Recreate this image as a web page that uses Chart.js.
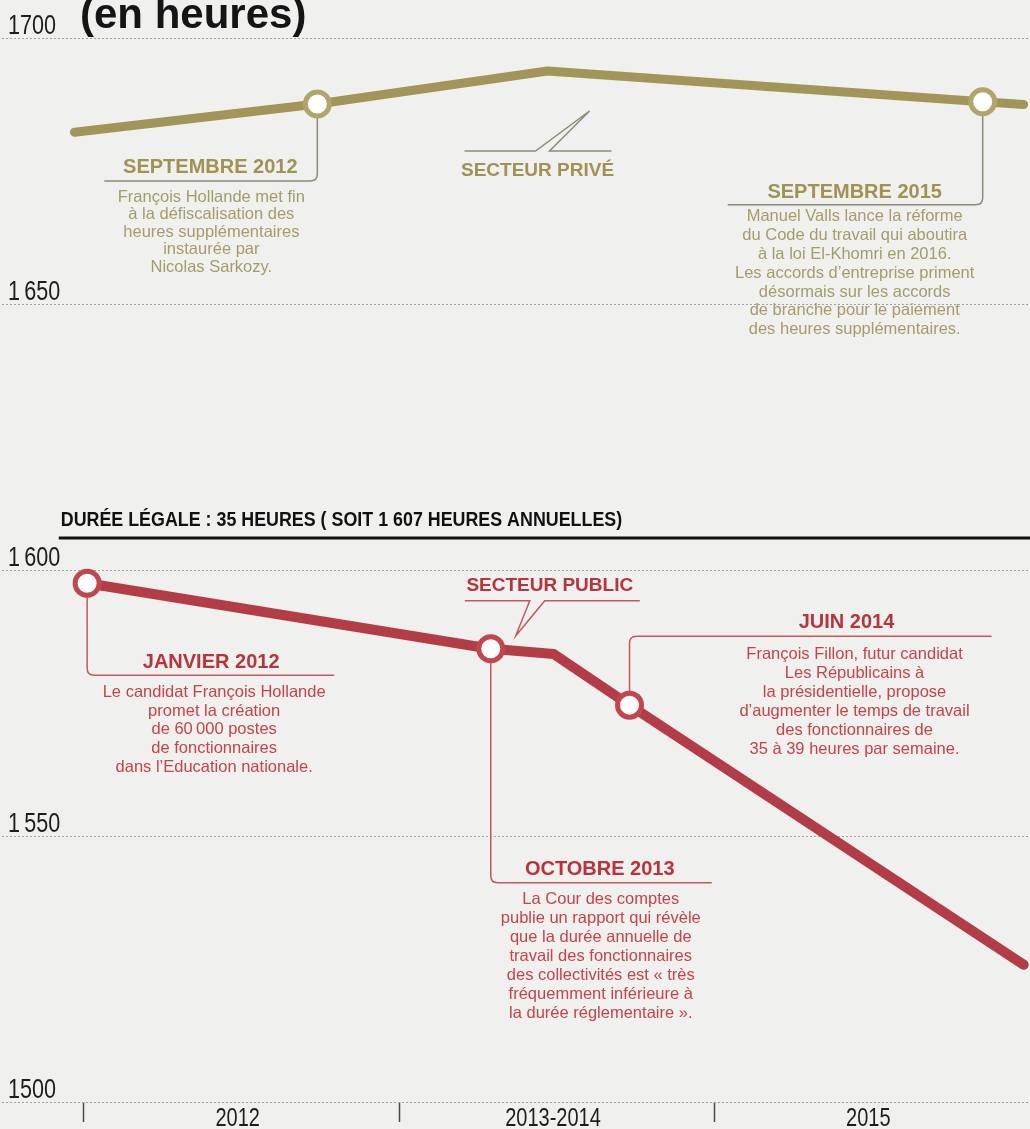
<!DOCTYPE html>
<html><head><meta charset="utf-8">
<script src="https://cdn.jsdelivr.net/npm/chart.js@4.4.1/dist/chart.umd.min.js"></script>
<style>
html,body{margin:0;padding:0;background:#f0f0ee;}
#wrap{width:1030px;height:1129px;position:relative;overflow:hidden;}
</style></head><body>
<div id="wrap"><canvas id="c" width="1030" height="1129"></canvas></div>
<script>
// ---------- DATA ----------
const titleText = '(en heures)';
const periodLabels = ['2012', '2013-2014', '2015'];
const periodTicks = [0, 0.5, 1, 1.5, 2, 2.5];
const yTickValues = [1500, 1550, 1600, 1650, 1700];
const yTickLabels = ['1500', '1\u2009550', '1\u2009600', '1\u2009650', '1700'];

// x expressed in period units (0 = start of 2012 column, 1 = start of 2013-2014, 2 = start of 2015)
const privateX = [-0.03, 0.74, 1.47, 2.85, 2.98];
const privateY = [1682.3, 1687.6, 1693.8, 1688.0, 1687.5];
const privateEvents = ['', 'SEPTEMBRE 2012', '', 'SEPTEMBRE 2015', ''];
const privateName = 'SECTEUR PRIVÉ';

const publicX = [0.01, 1.29, 1.49, 1.73, 2.98];
const publicY = [1597.5, 1585.2, 1584.2, 1574.6, 1525.8];
const publicEvents = ['JANVIER 2012', 'OCTOBRE 2013', '', 'JUIN 2014', ''];
const publicName = 'SECTEUR PUBLIC';

const legalX = [-0.08, 3];
const legalHours = [1606, 1606];
const legalLabel = 'DURÉE LÉGALE : 35 HEURES ( SOIT 1 607 HEURES ANNUELLES)';

const eventTexts = {
  'SEPTEMBRE 2012': ['François Hollande met fin', 'à la défiscalisation des', 'heures supplémentaires', 'instaurée par', 'Nicolas Sarkozy.'],
  'SEPTEMBRE 2015': ['Manuel Valls lance la réforme', 'du Code du travail qui aboutira', 'à la loi El-Khomri en 2016.', 'Les accords d\u2019entreprise priment', 'désormais sur les accords', 'de branche pour le paiement', 'des heures supplémentaires.'],
  'JANVIER 2012': ['Le candidat François Hollande', 'promet la création', 'de 60\u2009000 postes', 'de fonctionnaires', 'dans l\u2019Education nationale.'],
  'OCTOBRE 2013': ['La Cour des comptes', 'publie un rapport qui révèle', 'que la durée annuelle de', 'travail des fonctionnaires', 'des collectivités est « très', 'fréquemment inférieure à', 'la durée réglementaire ».'],
  'JUIN 2014': ['François Fillon, futur candidat', 'Les Républicains à', 'la présidentielle, propose', 'd\u2019augmenter le temps de travail', 'des fonctionnaires de', '35 à 39 heures par semaine.']
};

// ---------- STYLE ----------
const SANS = "'Liberation Sans', Arial, sans-serif";
const OLIVE_LINE = '#a3955a', OLIVE_RING = '#b2a56c', OLIVE_HEAD = '#a09253', OLIVE_TEXT = '#a59c68', OLIVE_CONN = '#8e8a78';
const RED_LINE = '#b33d47', RED_RING = '#c0474f', RED_HEAD = '#b8343d', RED_TEXT = '#c6434b', RED_CONN = '#c15a5c';

// callout layout (pixel offsets relative to the marker)
const calloutLayout = {
  'SEPTEMBRE 2012': {dy: 77, dx: -213, hx: -107, hy: 64, bx: -106, by: 93, lh: 17.6},
  'SEPTEMBRE 2015': {dy: 103, dx: -255, hx: -128, hy: 91, bx: -128, by: 115, lh: 18.8},
  'JANVIER 2012': {dy: 92, dx: 247, hx: 124, hy: 79, bx: 127, by: 109, lh: 18.8},
  'OCTOBRE 2013': {dy: 234, dx: 221, hx: 109, hy: 221, bx: 110, by: 251, lh: 19},
  'JUIN 2014': {dy: -69, dx: 362, hx: 217, hy: -83, bx: 225, by: -51, lh: 19}
};

// draw horizontally condensed text (no narrow font is installed)
function narrowText(ctx, text, x, y, font, sx, align) {
  ctx.save();
  ctx.font = font; ctx.textBaseline = 'middle'; ctx.textAlign = align || 'left';
  ctx.translate(x, y); ctx.scale(sx, 1);
  ctx.fillText(text, 0, 0);
  ctx.restore();
}

function drawCallout(ctx, mx, my, name, cfg, connColor, headColor, textColor) {
  const cy = my + cfg.dy, x2 = mx + cfg.dx, r = 7;
  const sy = Math.sign(cfg.dy), sx = Math.sign(cfg.dx);
  ctx.save();
  ctx.strokeStyle = connColor; ctx.lineWidth = 1.5;
  ctx.beginPath(); ctx.moveTo(mx, my);
  ctx.lineTo(mx, cy - sy * r);
  ctx.quadraticCurveTo(mx, cy, mx + sx * r, cy);
  ctx.lineTo(x2, cy);
  ctx.stroke();
  ctx.textAlign = 'center'; ctx.textBaseline = 'middle';
  ctx.fillStyle = headColor; ctx.font = 'bold 20px ' + SANS;
  ctx.fillText(name, mx + cfg.hx, my + cfg.hy);
  ctx.fillStyle = textColor; ctx.font = '16.5px ' + SANS;
  eventTexts[name].forEach((t, i) => ctx.fillText(t, mx + cfg.bx, my + cfg.by + i * cfg.lh));
  ctx.restore();
}

const bgPlugin = {
  id: 'bg',
  beforeDraw(chart) {
    const c = chart.ctx; c.save(); c.fillStyle = '#f0f0ee';
    c.fillRect(0, 0, chart.width, chart.height); c.restore();
  },
  afterDraw(chart) {
    const c = chart.ctx;
    c.save();
    c.fillStyle = '#151515'; c.font = 'bold 42px ' + SANS; c.textBaseline = 'alphabetic';
    c.fillText(titleText, 80, 28);
    c.restore();
    // axis labels (condensed)
    const xs = chart.scales.x, ys = chart.scales.y;
    c.save(); c.fillStyle = '#1e1e1e';
    yTickValues.forEach((v, i) => narrowText(c, yTickLabels[i], chart.chartArea.left + 6, ys.getPixelForValue(v) - 11, '27px ' + SANS, 0.8, 'left'));
    periodLabels.forEach((l, i) => narrowText(c, l, xs.getPixelForValue(i + 0.5) - 4, chart.chartArea.bottom + 17, '25px ' + SANS, 0.8, 'center'));
    c.restore();
  }
};

const annoPlugin = {
  id: 'anno',
  beforeDatasetsDraw(chart) {
    const ctx = chart.ctx;
    const mPriv = chart.getDatasetMeta(0).data, mPub = chart.getDatasetMeta(1).data, mLeg = chart.getDatasetMeta(2).data;
    privateEvents.forEach((e, i) => { if (e) drawCallout(ctx, mPriv[i].x, mPriv[i].y, e, calloutLayout[e], OLIVE_CONN, OLIVE_HEAD, OLIVE_TEXT); });
    publicEvents.forEach((e, i) => { if (e) drawCallout(ctx, mPub[i].x, mPub[i].y, e, calloutLayout[e], RED_CONN, RED_HEAD, RED_TEXT); });

    ctx.save();
    // SECTEUR PRIVE label, anchored to the peak point
    const pk = mPriv[2];
    ctx.strokeStyle = OLIVE_CONN; ctx.lineWidth = 1.5;
    ctx.beginPath();
    ctx.moveTo(pk.x - 83, pk.y + 80); ctx.lineTo(pk.x - 12, pk.y + 80);
    ctx.lineTo(pk.x + 42, pk.y + 40); ctx.lineTo(pk.x + 2, pk.y + 80); ctx.lineTo(pk.x + 64, pk.y + 80);
    ctx.stroke();
    ctx.fillStyle = OLIVE_HEAD; ctx.font = 'bold 19px ' + SANS; ctx.textAlign = 'center'; ctx.textBaseline = 'middle';
    ctx.fillText(privateName, pk.x - 10, pk.y + 100);

    // SECTEUR PUBLIC label, anchored to the October 2013 marker
    const oc = mPub[1];
    ctx.strokeStyle = RED_CONN;
    ctx.beginPath();
    ctx.moveTo(oc.x - 26, oc.y - 48); ctx.lineTo(oc.x + 39, oc.y - 48);
    ctx.lineTo(oc.x + 25, oc.y - 13); ctx.lineTo(oc.x + 54, oc.y - 48); ctx.lineTo(oc.x + 149, oc.y - 48);
    ctx.stroke();
    ctx.fillStyle = RED_HEAD;
    ctx.fillText(publicName, oc.x + 59, oc.y - 63);

    // legal duration label
    const lg = mLeg[0];
    ctx.fillStyle = '#111';
    narrowText(ctx, legalLabel, lg.x + 2, lg.y - 18, 'bold 21px ' + SANS, 0.85, 'left');
    ctx.restore();
  }
};

const markerRadius = (events) => (c) => events[c.dataIndex] ? 12 : 0;

new Chart(document.getElementById('c'), {
  type: 'line',
  data: {
    datasets: [
      {
        label: privateName,
        data: privateX.map((x, i) => ({x, y: privateY[i]})),
        borderColor: OLIVE_LINE, borderWidth: 9, tension: 0,
        borderCapStyle: 'round', borderJoinStyle: 'round',
        pointRadius: markerRadius(privateEvents), pointBackgroundColor: '#ffffff',
        pointBorderColor: OLIVE_RING, pointBorderWidth: 5, order: 2, clip: false
      },
      {
        label: publicName,
        data: publicX.map((x, i) => ({x, y: publicY[i]})),
        borderColor: RED_LINE, borderWidth: 10, tension: 0,
        borderCapStyle: 'round', borderJoinStyle: 'round',
        pointRadius: markerRadius(publicEvents), pointBackgroundColor: '#ffffff',
        pointBorderColor: RED_RING, pointBorderWidth: 5, order: 1, clip: false
      },
      {
        label: legalLabel,
        data: legalX.map((x, i) => ({x, y: legalHours[i]})),
        borderColor: '#111111', borderWidth: 3, pointRadius: 0, tension: 0, order: 3
      }
    ]
  },
  options: {
    responsive: false, animation: false, devicePixelRatio: 1,
    layout: {autoPadding: false, padding: {left: 2, right: 0, top: 38, bottom: 0}},
    plugins: {legend: {display: false}, tooltip: {enabled: false}},
    scales: {
      x: {
        type: 'linear', min: -0.26, max: 3.0,
        afterBuildTicks: s => { s.ticks = periodTicks.map(v => ({value: v})); },
        afterFit: s => { s.height = 27; s.paddingLeft = 0; s.paddingRight = 0; },
        grid: {
          drawOnChartArea: false, drawTicks: true, tickLength: 20, tickWidth: 1.5,
          tickColor: c => Number.isInteger(c.tick && c.tick.value) ? '#4a4a4a' : 'rgba(0,0,0,0)'
        },
        border: {display: false},
        ticks: {display: false}
      },
      y: {
        min: 1500, max: 1700,
        afterBuildTicks: s => { s.ticks = yTickValues.map(v => ({value: v})); },
        afterFit: s => { s.width = 0; s.paddingTop = 0; s.paddingBottom = 0; },
        grid: {color: '#a2a2a2', lineWidth: 1, drawTicks: false},
        border: {display: false, dash: [2, 2]},
        ticks: {display: false}
      }
    }
  },
  plugins: [bgPlugin, annoPlugin]
});
</script>
</body></html>
